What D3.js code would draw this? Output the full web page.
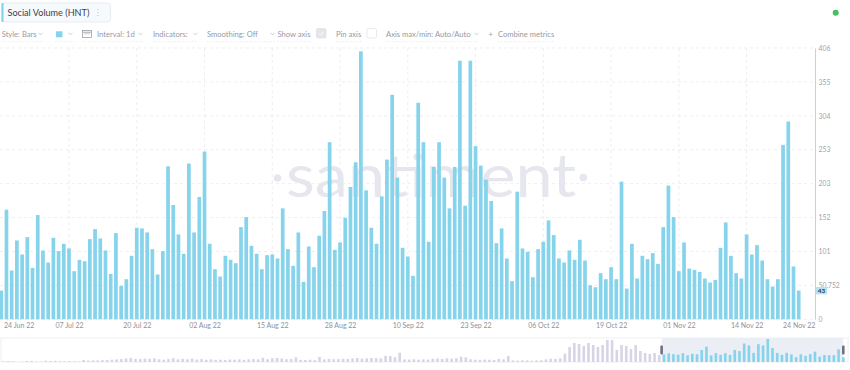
<!DOCTYPE html>
<html>
<head>
<meta charset="utf-8">
<script src="https://cdn.jsdelivr.net/npm/d3@7"></script>
<style>
  html, body { margin: 0; padding: 0; background: #ffffff; }
  svg { display: block; font-family: "Lato", "Inter", "DejaVu Sans", sans-serif; }
</style>
</head>
<body>
<script>
// ---------------- DATA ----------------
const metricTitle = "Social Volume (HNT)";
const startDate = "2022-06-24";
// daily social volume, 24 Jun 22 .. 24 Nov 22
const socialVolume = [
  43,164,73,118,97,123,77,156,103,85,
  122,102,113,106,72,89,87,120,135,121,
  103,68,129,50,60,95,137,136,130,105,
  67,102,229,171,127,98,233,130,183,251,
  113,75,64,95,89,84,138,153,110,98,
  75,96,97,91,166,105,80,130,56,109,
  78,125,162,265,104,115,152,198,235,401,
  193,137,113,184,239,336,212,107,94,65,
  324,265,116,228,265,212,166,228,387,170,
  387,259,230,209,177,114,136,91,57,191,
  106,101,63,105,116,148,126,91,85,103,
  89,119,88,51,48,69,60,78,60,206,
  46,113,61,95,90,99,83,138,200,153,
  72,115,76,74,71,61,55,59,107,145,
  95,69,61,127,97,111,88,60,49,60,
  261,296,79,43
];
const xTickDates = ["2022-06-24","2022-07-07","2022-07-20","2022-08-02","2022-08-15","2022-08-28",
  "2022-09-10","2022-09-23","2022-10-06","2022-10-19","2022-11-01","2022-11-14","2022-11-24"];
const xTickLabels = ["24 Jun 22","07 Jul 22","20 Jul 22","02 Aug 22","15 Aug 22","28 Aug 22",
  "10 Sep 22","23 Sep 22","06 Oct 22","19 Oct 22","01 Nov 22","14 Nov 22","24 Nov 22"];
const yTickValues = [0, 50.75, 101.5, 152.25, 203, 253.75, 304.5, 355.25, 406];
const yTickLabels = ["0","50.752","101","152","203","253","304","355","406"];
const yMax = 406;
const lastValueLabel = "43";
// navigator: earlier history, 4-day bins (estimated), before the selected window
const navBinDays = 4;
const navHistory = [
  8,13,10,0,6,12,14,5,6,16,12,14,10,8,12,9,6,
  26,18,22,20,24,26,30,34,38,
  46,52,40,38,44,42,48,36,
  30,38,50,34,40,36,44,32,38,30,34,
  28,30,26,32,30,34,28,36,38,34,
  55,
  36,48,52,46,
  36,38,62,
  28,26,30,24,
  66,
  34,40,36,38,42,40,
  46,52,
  44,48,52,50,46,
  80,76,62,122,
  34,32,36,30,34,32,
  42,46,40,48,44,
  50,70,60,
  36,30,28,32,30,26,
  40,34,78,
  20,18,22,20,16,20,22,
  34,42,40,48,
  110,
  196,248,235,209,248,222,196,222,287,287,157,222,209,170,222,143,117,104,117,91
];
const toolbarItems = ["Style: Bars","Interval: 1d","Indicators:","Smoothing: Off","Show axis","Pin axis","Axis max/min: Auto/Auto","Combine metrics"];

// ---------------- STYLE ----------------
const barColor = "#86d3ec";
const gridColor = "#e6e7ec";
const textGrey = "#959aa5";

const W = 850, H = 370;
const svg = d3.select("body").append("svg").attr("width", W).attr("height", H);

const parse = d3.utcParse("%Y-%m-%d");
const d0 = parse(startDate);
const data = socialVolume.map((v, i) => ({ date: d3.utcDay.offset(d0, i), value: v }));
const dLast = data[data.length - 1].date;

// ---------------- HEADER ----------------
const hdr = svg.append("g");
hdr.append("rect").attr("x", 1.5).attr("y", 3).attr("width", 109).attr("height", 19).attr("rx", 3)
  .attr("fill", "#f7fafc").attr("stroke", "#e1e8ee").attr("stroke-width", 0.8);
hdr.append("rect").attr("x", 1.5).attr("y", 3).attr("width", 2).attr("height", 19).attr("fill", "#7fd3ee");
hdr.append("text").attr("x", 7.5).attr("y", 16.2).attr("font-size", 9.1).attr("fill", "#3b414b").text(metricTitle);
[9.5, 12.5, 15.5].forEach(cy => hdr.append("circle").attr("cx", 98).attr("cy", cy).attr("r", 0.6).attr("fill", "#b7bcc5"));
svg.append("circle").attr("cx", 835.7).attr("cy", 12.7).attr("r", 3).attr("fill", "#45c162");

// toolbar
const tb = svg.append("g").attr("font-size", 7.6).attr("fill", textGrey);
const tbX = [1.7, 97, 153, 207, 277.5, 336, 386, 498];
toolbarItems.forEach((t, i) => tb.append("text").attr("x", tbX[i]).attr("y", 36.5).text(t));
function chevron(cx) {
  tb.append("path").attr("d", `M${cx-2},${32.8} L${cx},${34.8} L${cx+2},${32.8}`)
    .attr("fill", "none").attr("stroke", "#b0b5be").attr("stroke-width", 0.7);
}
[40.5, 70.5, 140.5, 195.5, 272.5, 476.5].forEach(chevron);
tb.append("rect").attr("x", 56).attr("y", 31.3).attr("width", 6.5).attr("height", 6).attr("fill", barColor);
// calendar icon
tb.append("rect").attr("x", 82.5).attr("y", 30.5).attr("width", 9).attr("height", 7).attr("fill", "none").attr("stroke", "#8e939c").attr("stroke-width", 0.7);
tb.append("line").attr("x1", 82.5).attr("x2", 91.5).attr("y1", 32.2).attr("y2", 32.2).attr("stroke", "#8e939c").attr("stroke-width", 0.7);
[85, 87, 89].forEach(cx => tb.append("line").attr("x1", cx).attr("x2", cx).attr("y1", 32.5).attr("y2", 34.5).attr("stroke", "#8e939c").attr("stroke-width", 0.6));
// checkboxes
tb.append("rect").attr("x", 316.5).attr("y", 28.5).attr("width", 9.5).attr("height", 9.5).attr("rx", 1.5).attr("fill", "#e3e5ea").attr("stroke", "#dadde3").attr("stroke-width", 0.6);
tb.append("path").attr("d", "M318.8,33.4 L320.6,35.2 L323.8,31.6").attr("fill", "none").attr("stroke", "#ffffff").attr("stroke-width", 0.9);
tb.append("rect").attr("x", 367).attr("y", 28.5).attr("width", 9.5).attr("height", 9.5).attr("rx", 1.5).attr("fill", "#ffffff").attr("stroke", "#dfe1e6").attr("stroke-width", 0.7);
tb.append("text").attr("x", 488.5).attr("y", 36.5).text("+");
// dashed underlines
[[1.7, 43], [55, 74], [82, 143], [153, 198], [207, 276], [277, 311], [336, 362], [386, 479], [498, 555]].forEach(([a, b]) =>
  tb.append("line").attr("x1", a).attr("x2", b).attr("y1", 41.5).attr("y2", 41.5)
    .attr("stroke", "#dfe2e7").attr("stroke-width", 0.6).attr("stroke-dasharray", "1.5,1.5"));

// ---------------- MAIN CHART ----------------
const x = d3.scaleUtc().domain([d0, dLast]).range([1.25, 798.7]);
const y = d3.scaleLinear().domain([0, yMax]).range([319.3, 48]);
const plotRight = 815;

// grid
const grid = svg.append("g").attr("stroke", gridColor).attr("stroke-width", 0.7).attr("stroke-dasharray", "3,3");
yTickValues.forEach(v => grid.append("line").attr("x1", 0).attr("x2", plotRight).attr("y1", y(v)).attr("y2", y(v)));
xTickDates.slice(1, -1).forEach(s => grid.append("line").attr("x1", x(parse(s))).attr("x2", x(parse(s))).attr("y1", y(yMax)).attr("y2", y(0)));

// watermark
const wm = svg.append("g").attr("fill", "#e6e7ee");
wm.append("text").attr("x", 286).attr("y", 197).attr("font-size", 60).attr("font-weight", 400)
  .attr("textLength", 290).attr("lengthAdjust", "spacingAndGlyphs").text("santiment");
wm.append("circle").attr("cx", 277.5).attr("cy", 178).attr("r", 3.8);
wm.append("circle").attr("cx", 583.3).attr("cy", 177.5).attr("r", 3.8);

// bars
const bw = 3.7;
svg.append("g").selectAll("rect").data(data).join("rect")
  .attr("x", d => x(d.date) - bw / 2).attr("width", bw)
  .attr("y", d => y(d.value)).attr("height", d => y(0) - y(d.value))
  .attr("fill", barColor);

// y axis (right)
const yAxis = svg.append("g").attr("transform", `translate(${plotRight},0)`)
  .call(d3.axisRight(y).tickValues(yTickValues).tickFormat((d, i) => yTickLabels[i]).tickSize(0).tickSizeOuter(0).tickPadding(3.5));
yAxis.select(".domain").attr("stroke", "#a9dcf0").attr("stroke-width", 1);
yAxis.selectAll("text").attr("font-size", 6.8).attr("fill", "#9ea3ad").attr("font-family", "Lato, Inter, sans-serif");

// last value marker (sits over the lowest tick label, as in the original)
const lastY = y(socialVolume[socialVolume.length - 1]);
svg.append("rect").attr("x", 816).attr("y", lastY - 3.6).attr("width", 11).attr("height", 7.4).attr("fill", "#b3e3f3");
svg.append("text").attr("x", 821.5).attr("y", lastY + 2.4).attr("text-anchor", "middle")
  .attr("font-size", 6.4).attr("font-weight", 700).attr("fill", "#2c3a4a").text(lastValueLabel);

// x axis
const xAxis = svg.append("g").attr("transform", `translate(0,${y(0)})`)
  .call(d3.axisBottom(x).tickValues(xTickDates.map(parse)).tickFormat((d, i) => xTickLabels[i]).tickSize(0).tickPadding(4.2));
xAxis.select(".domain").remove();
xAxis.selectAll("text").attr("font-size", 7).attr("fill", "#8d929c").attr("font-family", "Lato, Inter, sans-serif");
xAxis.selectAll(".tick").each(function () {
  const g = d3.select(this);
  const t = g.select("text");
  const w = t.node().getComputedTextLength();
  const tx = +g.attr("transform").match(/translate\(([-\d.]+)/)[1];
  let shift = 0;
  if (tx - w / 2 < 4) shift = 4 + w / 2 - tx;
  if (tx + w / 2 > 825) shift = 825 - w / 2 - tx;
  t.attr("x", shift);
});

// ---------------- NAVIGATOR ----------------
const navTop = 338, navBottom = 362;
const navStart = d3.utcDay.offset(d0, -navHistory.length * navBinDays);
const navEnd = d3.utcDay.offset(dLast, 1);
const nx = d3.scaleUtc().domain([navStart, navEnd]).range([1, 843.3]);
// selected window binned from daily data (mean per bin)
const navSelected = d3.range(0, socialVolume.length, navBinDays)
  .map(k => ({ date: d3.utcDay.offset(d0, k), value: d3.mean(socialVolume.slice(k, k + navBinDays)) }));
const navHist = navHistory.map((v, j) => ({ date: d3.utcDay.offset(navStart, j * navBinDays), value: v }));
const ny = d3.scaleLinear().domain([0, d3.max([...navHist, ...navSelected], d => d.value)]).range([navBottom, navTop + 1]);

svg.append("rect").attr("x", 1).attr("y", navTop).attr("width", 847).attr("height", navBottom - navTop)
  .attr("fill", "none").attr("stroke", "#ebebf0").attr("stroke-width", 0.8);
svg.append("rect").attr("x", nx(d0)).attr("y", navTop).attr("width", nx(navEnd) - nx(d0)).attr("height", navBottom - navTop)
  .attr("fill", "#ebeef4");
const nbw = 2.6, binPx = nx(d3.utcDay.offset(navStart, navBinDays)) - nx(navStart);
svg.append("g").selectAll("rect").data(navHist).join("rect")
  .attr("x", d => nx(d.date) + (binPx - nbw) / 2).attr("width", nbw)
  .attr("y", d => ny(d.value)).attr("height", d => navBottom - ny(d.value)).attr("fill", "#d6d5e6");
svg.append("g").selectAll("rect").data(navSelected).join("rect")
  .attr("x", d => nx(d.date) + (binPx - nbw) / 2).attr("width", nbw)
  .attr("y", d => ny(d.value)).attr("height", d => navBottom - ny(d.value)).attr("fill", barColor);
[nx(d0), nx(navEnd)].forEach(hx => svg.append("rect").attr("x", hx - 1.3).attr("y", 345.5).attr("width", 2.6).attr("height", 9).attr("rx", 1)
  .attr("fill", "#6d727c"));
</script>
</body>
</html>
